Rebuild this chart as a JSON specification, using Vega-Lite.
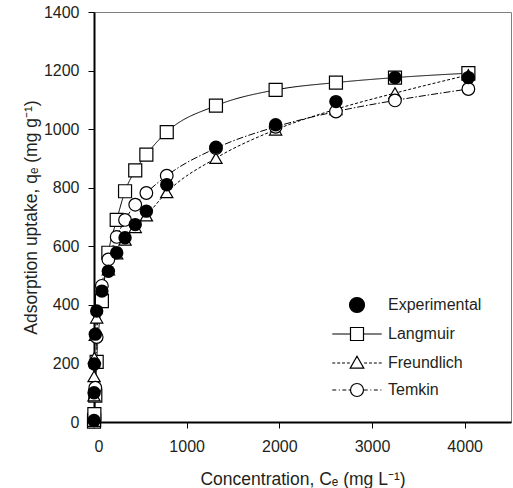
{
  "$schema": "https://vega.github.io/schema/vega-lite/v6.json",
  "width": 417,
  "height": 410,
  "autosize": {"type": "none"},
  "padding": {"left": 94, "top": 12, "right": 2, "bottom": 66},
  "background": "white",
  "config": {
    "font": "Liberation Sans",
    "view": {"stroke": "#808080", "strokeWidth": 1},
    "axis": {
      "grid": false,
      "domainColor": "black",
      "domainWidth": 2,
      "tickColor": "black",
      "tickSize": 6,
      "tickWidth": 1,
      "labelFont": "Liberation Sans",
      "labelFontSize": 16,
      "labelColor": "#231f20",
      "titleFont": "Liberation Sans",
      "titleFontSize": 17.5,
      "titleFontWeight": "normal",
      "titleColor": "#231f20"
    },
    "legend": {
      "title": null,
      "padding": 0,
      "symbolSize": 169,
      "symbolStrokeColor": "black",
      "symbolStrokeWidth": 1.2,
      "labelFont": "Liberation Sans",
      "labelFontSize": 16,
      "labelColor": "#231f20",
      "labelOffset": 23,
      "rowPadding": 10
    }
  },
  "data": {
    "values": [
      {"series": "Experimental", "C": 0.1, "q": 5},
      {"series": "Experimental", "C": 1, "q": 100},
      {"series": "Experimental", "C": 4, "q": 198},
      {"series": "Experimental", "C": 14, "q": 300},
      {"series": "Experimental", "C": 29, "q": 379},
      {"series": "Experimental", "C": 85, "q": 447},
      {"series": "Experimental", "C": 155, "q": 515},
      {"series": "Experimental", "C": 245, "q": 578},
      {"series": "Experimental", "C": 335, "q": 629},
      {"series": "Experimental", "C": 445, "q": 674},
      {"series": "Experimental", "C": 565, "q": 720},
      {"series": "Experimental", "C": 785, "q": 810},
      {"series": "Experimental", "C": 1316, "q": 938},
      {"series": "Experimental", "C": 1960, "q": 1015},
      {"series": "Experimental", "C": 2611, "q": 1094},
      {"series": "Experimental", "C": 3248, "q": 1176},
      {"series": "Experimental", "C": 4040, "q": 1176},
      {"series": "Langmuir", "C": 0.1, "q": 1},
      {"series": "Langmuir", "C": 1, "q": 7},
      {"series": "Langmuir", "C": 4, "q": 27},
      {"series": "Langmuir", "C": 14, "q": 90},
      {"series": "Langmuir", "C": 29, "q": 205},
      {"series": "Langmuir", "C": 85, "q": 413},
      {"series": "Langmuir", "C": 155, "q": 578},
      {"series": "Langmuir", "C": 245, "q": 690},
      {"series": "Langmuir", "C": 335, "q": 788},
      {"series": "Langmuir", "C": 445, "q": 859},
      {"series": "Langmuir", "C": 565, "q": 913},
      {"series": "Langmuir", "C": 785, "q": 990},
      {"series": "Langmuir", "C": 1316, "q": 1080},
      {"series": "Langmuir", "C": 1960, "q": 1134},
      {"series": "Langmuir", "C": 2611, "q": 1159},
      {"series": "Langmuir", "C": 3248, "q": 1176},
      {"series": "Langmuir", "C": 4040, "q": 1191},
      {"series": "Freundlich", "C": 0.1, "q": 90},
      {"series": "Freundlich", "C": 1, "q": 156},
      {"series": "Freundlich", "C": 4, "q": 219},
      {"series": "Freundlich", "C": 14, "q": 297},
      {"series": "Freundlich", "C": 29, "q": 356},
      {"series": "Freundlich", "C": 85, "q": 455},
      {"series": "Freundlich", "C": 155, "q": 520},
      {"series": "Freundlich", "C": 245, "q": 575},
      {"series": "Freundlich", "C": 335, "q": 622},
      {"series": "Freundlich", "C": 445, "q": 665},
      {"series": "Freundlich", "C": 565, "q": 705},
      {"series": "Freundlich", "C": 785, "q": 784},
      {"series": "Freundlich", "C": 1316, "q": 901},
      {"series": "Freundlich", "C": 1960, "q": 998},
      {"series": "Freundlich", "C": 2611, "q": 1068},
      {"series": "Freundlich", "C": 3248, "q": 1123},
      {"series": "Freundlich", "C": 4040, "q": 1185},
      {"series": "Temkin", "C": 14, "q": 117},
      {"series": "Temkin", "C": 29, "q": 290},
      {"series": "Temkin", "C": 85, "q": 465},
      {"series": "Temkin", "C": 155, "q": 555},
      {"series": "Temkin", "C": 245, "q": 632},
      {"series": "Temkin", "C": 335, "q": 690},
      {"series": "Temkin", "C": 445, "q": 742},
      {"series": "Temkin", "C": 565, "q": 782},
      {"series": "Temkin", "C": 785, "q": 841},
      {"series": "Temkin", "C": 1316, "q": 935},
      {"series": "Temkin", "C": 1960, "q": 1008},
      {"series": "Temkin", "C": 2611, "q": 1060},
      {"series": "Temkin", "C": 3248, "q": 1098},
      {"series": "Temkin", "C": 4040, "q": 1137}
    ]
  },
  "encoding": {
    "x": {
      "field": "C",
      "type": "quantitative",
      "scale": {"domain": [0, 4500], "nice": false, "zero": false},
      "axis": {"values": [0, 1000, 2000, 3000, 4000], "format": "d", "labelPadding": 10, "titlePadding": 16},
      "title": "Concentration, Cₑ (mg L⁻¹)"
    },
    "y": {
      "field": "q",
      "type": "quantitative",
      "scale": {"domain": [0, 1400], "nice": false},
      "axis": {"values": [0, 200, 400, 600, 800, 1000, 1200, 1400], "format": "d", "labelPadding": 9, "titlePadding": 3},
      "title": "Adsorption uptake, qₑ (mg g⁻¹)"
    }
  },
  "layer": [
    {
      "transform": [{"filter": "datum.series !== 'Experimental'"}],
      "mark": {"type": "line", "interpolate": "monotone", "color": "black", "strokeWidth": 1},
      "encoding": {
        "strokeDash": {
          "field": "series",
          "type": "nominal",
          "scale": {"domain": ["Langmuir", "Freundlich", "Temkin"], "range": [[1, 0], [3, 2], [7, 2, 1.5, 2]]},
          "legend": null
        }
      }
    },
    {
      "transform": [{"filter": "datum.series === 'Langmuir'"}],
      "mark": {"type": "point", "shape": "square", "filled": false, "fill": "white", "stroke": "black", "strokeWidth": 1.2, "size": 169, "opacity": 1}
    },
    {
      "transform": [{"filter": "datum.series === 'Freundlich'"}],
      "mark": {"type": "point", "shape": "triangle-up", "filled": false, "fill": "white", "stroke": "black", "strokeWidth": 1.2, "size": 150, "opacity": 1}
    },
    {
      "transform": [{"filter": "datum.series === 'Temkin'"}],
      "mark": {"type": "point", "shape": "circle", "filled": false, "fill": "white", "stroke": "black", "strokeWidth": 1.2, "size": 160, "opacity": 1}
    },
    {
      "transform": [{"filter": "datum.series === 'Experimental'"}],
      "mark": {"type": "point", "shape": "circle", "filled": true, "color": "black", "size": 180, "opacity": 1}
    },
    {
      "transform": [{"filter": "false"}],
      "mark": {"type": "point", "filled": true, "strokeWidth": 1.2, "size": 169, "opacity": 1},
      "encoding": {
        "shape": {
          "field": "series",
          "type": "nominal",
          "scale": {
            "domain": ["Experimental", "Langmuir", "Freundlich", "Temkin"],
            "range": [
              "M-1.15,0A1.15,1.15 0 1,1 1.15,0A1.15,1.15 0 1,1 -1.15,0Z",
              "M-3.8,0H-1M1,0H3.8M-1,-1H1V1H-1Z",
              "M-3.8,0H-3.35M-3.05,0H-2.6M-2.3,0H-1.85M-1.55,0H-1.1M1.1,0H1.55M1.85,0H2.3M2.6,0H3.05M3.35,0H3.8M0,-1.05L1.05,0.8L-1.05,0.8Z",
              "M-3.8,0H-3.2M-2.8,0H-2.65M-2.25,0H-1.65M-1.3,0H-1.05M1.05,0H1.65M2.05,0H2.2M2.6,0H3.2M3.6,0H3.75M-1,0A1,1 0 1,1 1,0A1,1 0 1,1 -1,0Z"
            ]
          },
          "legend": {"orient": "none", "legendX": 255, "legendY": 285}
        },
        "fill": {
          "field": "series",
          "type": "nominal",
          "scale": {"domain": ["Experimental", "Langmuir", "Freundlich", "Temkin"], "range": ["black", "white", "white", "white"]},
          "legend": {"orient": "none", "legendX": 255, "legendY": 285}
        },
        "stroke": {
          "field": "series",
          "type": "nominal",
          "scale": {"domain": ["Experimental", "Langmuir", "Freundlich", "Temkin"], "range": ["black", "black", "black", "black"]},
          "legend": {"orient": "none", "legendX": 255, "legendY": 285}
        }
      }
    }
  ]
}
